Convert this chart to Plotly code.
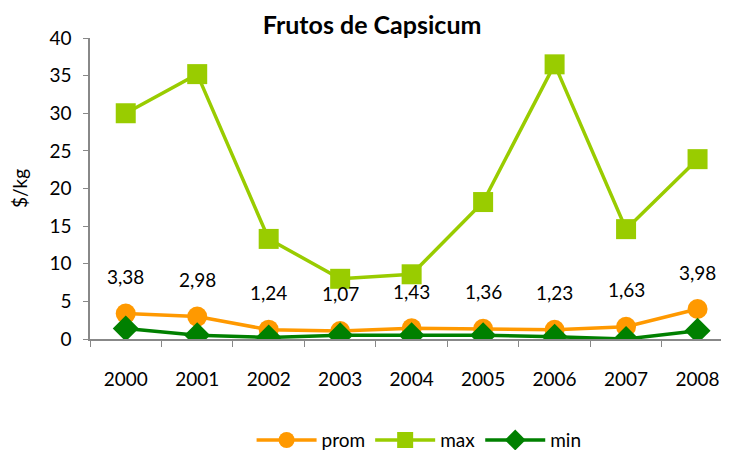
import plotly.graph_objects as go

years = ["2000", "2001", "2002", "2003", "2004", "2005", "2006", "2007", "2008"]
prom = [3.38, 2.98, 1.24, 1.07, 1.43, 1.36, 1.23, 1.63, 3.98]
maxv = [30.0, 35.2, 13.3, 8.0, 8.6, 18.2, 36.5, 14.6, 23.9]
minv = [1.4, 0.5, 0.2, 0.5, 0.5, 0.5, 0.3, 0.0, 1.1]
prom_labels = ["3,38", "2,98", "1,24", "1,07", "1,43", "1,36", "1,23", "1,63", "3,98"]

FONT = "Lato"

fig = go.Figure()
fig.add_trace(go.Scatter(x=years, y=prom, name="prom", mode="lines+markers",
                         line=dict(color="#FF9900", width=3.5),
                         marker=dict(symbol="circle", size=20, color="#FF9900")))
fig.add_trace(go.Scatter(x=years, y=maxv, name="max", mode="lines+markers",
                         line=dict(color="#99CC00", width=3.5),
                         marker=dict(symbol="square", size=20, color="#99CC00")))
fig.add_trace(go.Scatter(x=years, y=minv, name="min", mode="lines+markers",
                         line=dict(color="#008000", width=3.5),
                         marker=dict(symbol="diamond", size=20, color="#008000")))

for i, (y, t) in enumerate(zip(prom, prom_labels)):
    fig.add_annotation(x=i, y=y, xref="x", yref="y", text=t, showarrow=False,
                       yshift=37, font=dict(family=FONT, size=19, color="#000"))

# page body has an 8px margin: figure is sized/positioned to compensate
fig.update_layout(
    width=721, height=442,
    margin=dict(l=82, r=0, t=30, b=111, autoexpand=False),
    paper_bgcolor="white", plot_bgcolor="white",
    title=dict(text="<b>Frutos de Capsicum</b>", x=0.505, xanchor="center",
               y=0.962, yanchor="middle", font=dict(family=FONT, size=25, color="#000")),
    font=dict(family=FONT, size=18, color="#000"),
    showlegend=True,
    legend=dict(orientation="h", x=0.515, xanchor="center", y=-0.336, yanchor="middle",
                font=dict(family=FONT, size=19), itemwidth=60, tracegroupgap=0),
    xaxis=dict(type="category", range=[-0.5, 8.44], showgrid=False, automargin=False,
               showline=True, linecolor="#888", linewidth=1.5,
               ticks="outside", tickson="boundaries", ticklen=6, tickcolor="#888",
               ticklabelstandoff=22, tickfont=dict(family=FONT, size=19)),
    yaxis=dict(range=[0, 40], dtick=5, showgrid=False, zeroline=False, automargin=False,
               showline=True, linecolor="#888", linewidth=1.5,
               ticks="outside", ticklen=5, tickcolor="#888", ticklabelstandoff=8,
               tickfont=dict(family=FONT, size=19),
               title=dict(text="$/kg", font=dict(family=FONT, size=19), standoff=24)),
)

fig.write_html("out.html")
